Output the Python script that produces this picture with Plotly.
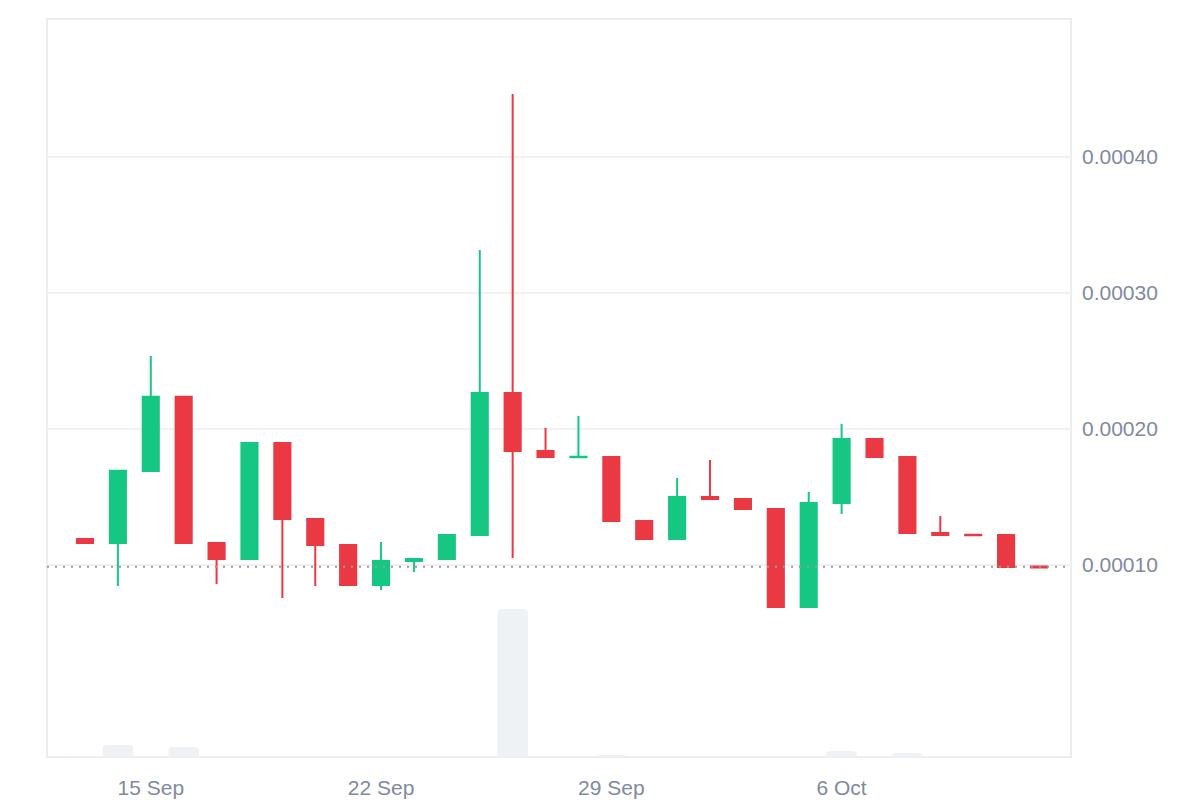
import plotly.graph_objects as go

# ---- data ----
dates = [
    "2024-09-13", "2024-09-14", "2024-09-15", "2024-09-16", "2024-09-17",
    "2024-09-18", "2024-09-19", "2024-09-20", "2024-09-21", "2024-09-22",
    "2024-09-23", "2024-09-24", "2024-09-25", "2024-09-26", "2024-09-27",
    "2024-09-28", "2024-09-29", "2024-09-30", "2024-10-01", "2024-10-02",
    "2024-10-03", "2024-10-04", "2024-10-05", "2024-10-06", "2024-10-07",
    "2024-10-08", "2024-10-09", "2024-10-10", "2024-10-11", "2024-10-12",
]
open_ = [0.0001189, 0.0001159, 0.0001689, 0.0002234, 0.0001160,
         0.0001042, 0.0001895, 0.0001336, 0.0001145, 0.0000850,
         0.0001027, 0.0001042, 0.0001218, 0.0002263, 0.0001836,
         0.0001790, 0.0001792, 0.0001322, 0.0001189, 0.0001498,
         0.0001483, 0.0001410, 0.0000689, 0.0001453, 0.0001925,
         0.0001792, 0.0001233, 0.0001221, 0.0001219, 0.0000986]
high = [0.0001196, 0.0001697, 0.0002535, 0.0002241, 0.0001167,
        0.0001902, 0.0001902, 0.0001343, 0.0001152, 0.0001167,
        0.0001049, 0.0001226, 0.0003314, 0.0004461, 0.0002005,
        0.0002093, 0.0001799, 0.0001329, 0.0001638, 0.0001770,
        0.0001490, 0.0001417, 0.0001535, 0.0002035, 0.0001932,
        0.0001799, 0.0001358, 0.0001226, 0.0001226, 0.0000990]
low = [0.0001152, 0.0000843, 0.0001682, 0.0001152, 0.0000858,
       0.0001035, 0.0000755, 0.0000843, 0.0000843, 0.0000814,
       0.0000946, 0.0001035, 0.0001211, 0.0001049, 0.0001785,
       0.0001785, 0.0001314, 0.0001182, 0.0001182, 0.0001476,
       0.0001402, 0.0000682, 0.0000682, 0.0001373, 0.0001785,
       0.0001226, 0.0001211, 0.0001211, 0.0000976, 0.0000976]
close = [0.0001159, 0.0001690, 0.0002234, 0.0001159, 0.0001042,
         0.0001895, 0.0001336, 0.0001144, 0.0000850, 0.0001028,
         0.0001042, 0.0001219, 0.0002263, 0.0001836, 0.0001792,
         0.0001794, 0.0001321, 0.0001189, 0.0001498, 0.0001483,
         0.0001409, 0.0000689, 0.0001454, 0.0001925, 0.0001792,
         0.0001233, 0.0001218, 0.0001216, 0.0000983, 0.0000980]
volume = [300, 12000, 300, 10000, 300,
          300, 300, 300, 300, 300,
          300, 300, 300, 148000, 300,
          300, 2000, 300, 300, 300,
          300, 300, 300, 6000, 300,
          4000, 300, 300, 300, 300]

tick_dates = ["2024-09-15", "2024-09-22", "2024-09-29", "2024-10-06"]
tick_labels = ["15 Sep", "22 Sep", "29 Sep", "6 Oct"]
price_ticks = [0.0001, 0.0002, 0.0003, 0.0004]
price_tick_labels = ["0.00010", "0.00020", "0.00030", "0.00040"]
current_price = 0.0000985

GREEN = "#16C784"
RED = "#EA3943"
LABEL = "#808A9D"
GRID = "#F1F1F1"
FRAME = "#EDEDED"
VOL = "#EFF2F5"

fig = go.Figure()

fig.add_trace(go.Bar(
    x=dates, y=volume, yaxis="y", marker=dict(color=VOL, line=dict(width=0), cornerradius=4),
    hoverinfo="skip", showlegend=False,
))

fig.add_trace(go.Candlestick(
    x=dates, open=open_, high=high, low=low, close=close, yaxis="y2",
    increasing=dict(line=dict(color=GREEN, width=2), fillcolor=GREEN),
    decreasing=dict(line=dict(color=RED, width=2), fillcolor=RED),
    whiskerwidth=0, showlegend=False,
))

fig.add_shape(type="line", xref="paper", x0=0, x1=1, yref="y2",
              y0=current_price, y1=current_price,
              line=dict(color="#9A9A9A", width=2, dash="2px,6px"), layer="above")

fig.add_shape(type="rect", xref="paper", yref="paper", x0=0, x1=1, y0=0, y1=1,
              line=dict(color=FRAME, width=2), layer="below")

fig.update_layout(
    width=1200, height=800,
    margin=dict(l=47, r=129, t=19, b=43, autoexpand=False),
    paper_bgcolor="white", plot_bgcolor="white",
    font=dict(family="Liberation Sans, Arial, sans-serif", size=21, color=LABEL),
    bargap=0.07,
    xaxis=dict(
        type="date",
        range=["2024-09-11 20:17", "2024-10-12 23:21"],
        tickvals=tick_dates, ticktext=tick_labels,
        showgrid=False, zeroline=False, showline=False,
        ticks="", ticklabelstandoff=16, automargin=False,
        rangeslider=dict(visible=False),
        tickfont=dict(size=21, color=LABEL),
    ),
    yaxis=dict(
        range=[0, 738000], visible=False, showgrid=False, zeroline=False,
        fixedrange=True,
    ),
    yaxis2=dict(
        overlaying="y", side="right",
        range=[-0.0000414, 0.00050125],
        tickvals=price_ticks, ticktext=price_tick_labels,
        showgrid=True, gridcolor=GRID, gridwidth=2,
        zeroline=False, showline=False, ticks="", automargin=False,
        ticklabelstandoff=10,
        tickfont=dict(size=21, color=LABEL),
    ),
    hovermode=False,
)

fig.write_html("out.html")
